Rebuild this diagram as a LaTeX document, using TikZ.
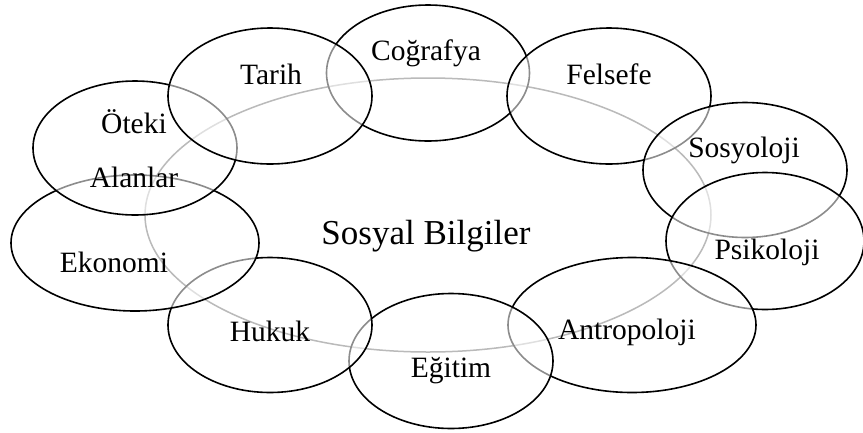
\documentclass[tikz,border=0pt]{standalone}
\usepackage{fontspec}
\setmainfont{Liberation Serif}
\usetikzlibrary{shapes.geometric}
\tikzset{
  big/.style={ellipse, draw=black!60, line width=1.5pt, inner sep=0pt, fill=white},
  ell/.style={ellipse, draw=black, line width=1.6pt, inner sep=0pt, fill=white, fill opacity=0.55},
  lbl/.style={anchor=base, inner sep=0pt, font=\fontsize{29.5}{35}\selectfont},
  mainlbl/.style={anchor=base, inner sep=0pt, font=\fontsize{35}{42}\selectfont}
}
\begin{document}
\begin{tikzpicture}[x=1pt,y=-1pt]
\useasboundingbox (0,0) rectangle (863,432);
\node[big, minimum width=566, minimum height=274] (sb) at (428,215) {};
\node[ell, minimum width=203, minimum height=136] (cog) at (428,73) {};
\node[ell, minimum width=204, minimum height=136] (fel) at (609,96) {};
\node[ell, minimum width=204, minimum height=135] (sos) at (745,170) {};
\node[ell, minimum width=198, minimum height=137] (psi) at (765,241) {};
\node[ell, minimum width=248, minimum height=135] (ant) at (632,325) {};
\node[ell, minimum width=204, minimum height=135] (egi) at (451,361) {};
\node[ell, minimum width=204, minimum height=135] (huk) at (270,325) {};
\node[ell, minimum width=248, minimum height=136] (eko) at (135,243) {};
\node[ell, minimum width=204, minimum height=134] (ote) at (135,148) {};
\node[ell, minimum width=204, minimum height=136] (tar) at (270,96) {};
\node[mainlbl] (tsb) at (426,244) {Sosyal Bilgiler};
\node[lbl] (tcog) at (426,60) {Coğrafya};
\node[lbl] (tfel) at (609,84) {Felsefe};
\node[lbl] (tsos) at (744,157) {Sosyoloji};
\node[lbl] (tpsi) at (767,259) {Psikoloji};
\node[lbl] (tant) at (627,339) {Antropoloji};
\node[lbl] (tegi) at (451,377) {Eğitim};
\node[lbl] (thuk) at (270,341) {Hukuk};
\node[lbl] (teko) at (114,272) {Ekonomi};
\node[lbl] (tote1) at (134,133) {Öteki};
\node[lbl] (tote2) at (134,187) {Alanlar};
\node[lbl] (ttar) at (271,84) {Tarih};
\end{tikzpicture}
\end{document}
